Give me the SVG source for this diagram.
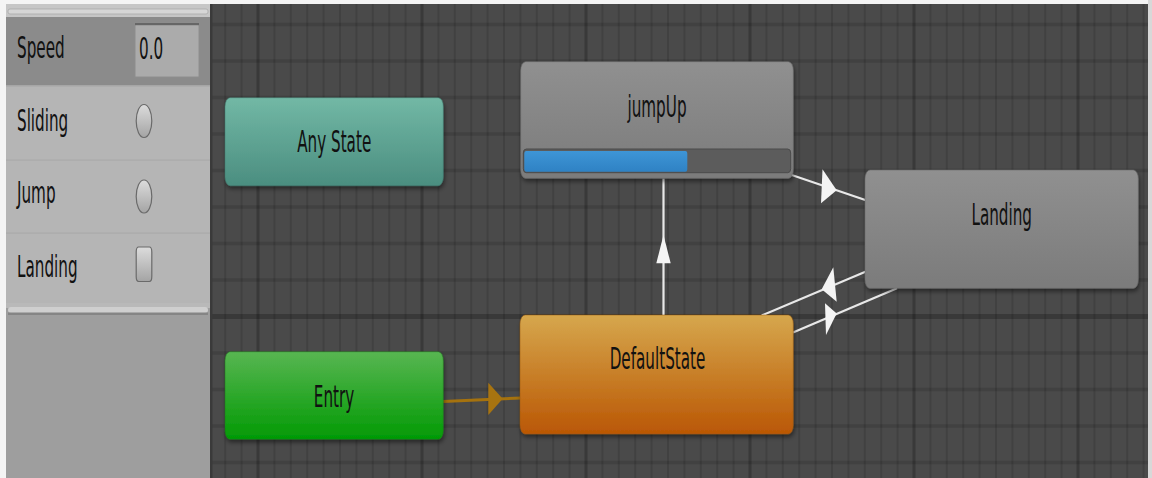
<svg xmlns="http://www.w3.org/2000/svg" width="1152" height="478" viewBox="0 0 1152 478">
<style>
.t{font-family:"DejaVu Sans",sans-serif;font-size:15.2px;fill:#111}
.tc{text-anchor:middle}
.minor{stroke:#000;stroke-opacity:0.11;fill:none}
.major{stroke:#000;stroke-opacity:0.22;fill:none}
.wire{stroke:#e8e8e8;stroke-width:2.2;fill:none}
.head{fill:#f4f4f4}
.tog{stroke:#6a6a6a;stroke-width:1.2;fill:url(#gTog)}
.node{filter:url(#sh)}
</style>
<defs>
<linearGradient id="gAny" x1="0" y1="0" x2="0" y2="1"><stop offset="0" stop-color="#72b8a5"/><stop offset="1" stop-color="#4b8e80"/></linearGradient>
<linearGradient id="gEntry" x1="0" y1="0" x2="0" y2="1"><stop offset="0" stop-color="#58b652"/><stop offset="1" stop-color="#029a04"/></linearGradient>
<linearGradient id="gDef" x1="0" y1="0" x2="0" y2="1"><stop offset="0" stop-color="#d6a74d"/><stop offset="1" stop-color="#ba5704"/></linearGradient>
<linearGradient id="gGray" x1="0" y1="0" x2="0" y2="1"><stop offset="0" stop-color="#909090"/><stop offset="1" stop-color="#7b7b7b"/></linearGradient>
<linearGradient id="gBlue" x1="0" y1="0" x2="0" y2="1"><stop offset="0" stop-color="#3e95d6"/><stop offset="1" stop-color="#2f82c4"/></linearGradient>
<linearGradient id="gTog" x1="0" y1="0" x2="0" y2="1"><stop offset="0" stop-color="#dcdcdc"/><stop offset="1" stop-color="#a4a4a4"/></linearGradient>
<filter id="sh" x="-10%" y="-20%" width="120%" height="150%"><feDropShadow dx="1" dy="3" stdDeviation="2" flood-color="#000" flood-opacity="0.45"/></filter>
</defs>

<!-- canvas background and grid -->
<rect x="0" y="0" width="1152" height="478" fill="#4a4a4a"/>
<path class="minor" stroke-width="3.5" d="M212 24.5H1152M212 61H1152M212 97.5H1152M212 134H1152M212 170.5H1152M212 207H1152M212 243.5H1152M212 280H1152M212 353H1152M212 389.5H1152M212 426H1152M212 462.5H1152"/>
<path class="minor" stroke-width="2" d="M225.2 0V478M241.6 0V478M274.4 0V478M290.8 0V478M307.2 0V478M323.6 0V478M340 0V478M356.4 0V478M372.8 0V478M389.2 0V478M405.6 0V478M438.4 0V478M454.8 0V478M471.2 0V478M487.6 0V478M504 0V478M520.4 0V478M536.8 0V478M553.2 0V478M569.6 0V478M602.4 0V478M618.8 0V478M635.2 0V478M651.6 0V478M668 0V478M684.4 0V478M700.8 0V478M717.2 0V478M733.6 0V478M766.4 0V478M782.8 0V478M799.2 0V478M815.6 0V478M832 0V478M848.4 0V478M864.8 0V478M881.2 0V478M897.6 0V478M930.4 0V478M946.8 0V478M963.2 0V478M979.6 0V478M996 0V478M1012.4 0V478M1028.8 0V478M1045.2 0V478M1061.6 0V478M1094.4 0V478M1110.8 0V478M1127.2 0V478M1143.6 0V478"/>
<path class="major" stroke-width="5" d="M212 316.5H1152"/>
<path class="major" stroke-width="3" d="M258 0V478M422 0V478M586 0V478M750 0V478M914 0V478M1078 0V478"/>

<!-- outer light border -->
<rect x="0" y="0" width="1152" height="4" fill="#f4f4f4"/>
<rect x="0" y="0" width="6" height="478" fill="#f4f4f4"/>
<rect x="1148" y="0" width="4" height="478" fill="#d8d8d8"/>

<!-- parameters panel -->
<g id="panel">
<rect x="6" y="4" width="204.5" height="474" fill="#9e9e9e"/>
<rect x="210" y="4" width="2.5" height="474" fill="#3a3a3a"/>
<rect x="6" y="4" width="204" height="13" fill="#c6c6c6"/>
<rect x="8" y="9" width="200" height="5" rx="2" fill="#d6d6d6" stroke="#a9a9a9" stroke-width="0.8"/>
<rect x="6" y="17" width="204" height="69" fill="#8b8b8b"/>
<rect x="6" y="86" width="204" height="220" fill="#b5b5b5"/>
<rect x="6" y="85" width="204" height="1.5" fill="#a6a6a6"/>
<rect x="6" y="159.5" width="204" height="1.2" fill="#aaaaaa"/>
<rect x="6" y="232.5" width="204" height="1.2" fill="#aaaaaa"/>
<rect x="6" y="303" width="204" height="5" fill="#b9b9b9"/>
<rect x="8" y="307" width="200" height="6" rx="3" fill="#cfcfcf"/>
<rect x="8" y="312.5" width="200" height="2.5" fill="#858585"/>
</g>
<g id="param-speed">
<rect x="135" y="23" width="64" height="54" fill="#ababab" stroke="#8e8e8e" stroke-width="1"/>
<rect x="135" y="23" width="64" height="2.2" fill="#666"/>
<text class="t" transform="translate(17,57.5) scale(1,1.95)">Speed</text>
<text class="t" transform="translate(139,59) scale(1,1.95)">0.0</text>
</g>
<g id="param-sliding">
<text class="t" transform="translate(17,131) scale(1,1.95)">Sliding</text>
<ellipse class="tog" cx="144" cy="121" rx="7.8" ry="16.5"/>
</g>
<g id="param-jump">
<text class="t" transform="translate(17,203.3) scale(1,1.95)">Jump</text>
<ellipse class="tog" cx="144" cy="196.5" rx="7.8" ry="16.5"/>
</g>
<g id="param-landing">
<text class="t" transform="translate(17,277.3) scale(1,1.95)">Landing</text>
<rect class="tog" x="136.2" y="247" width="15.6" height="34.5" rx="2.5" ry="5"/>
</g>

<!-- connectors -->
<g id="connectors">
<line x1="443" y1="401.5" x2="521" y2="398" stroke="#a5720e" stroke-width="3"/>
<polygon points="488.3,382.7 502.7,398.7 488.3,415" fill="#a87410"/>
<line class="wire" x1="663.5" y1="315" x2="663.5" y2="178.5"/>
<polygon class="head" points="663.5,235 670.7,263.3 656.3,263.3"/>
<line class="wire" x1="791.7" y1="175" x2="866" y2="200.3"/>
<polygon class="head" points="822.5,169.3 836.7,190.3 821,203.3"/>
<line class="wire" x1="761.7" y1="315.5" x2="866" y2="271.5"/>
<polygon class="head" points="833.3,267.3 821.7,289.3 836.7,301.7"/>
<line class="wire" x1="793" y1="332.4" x2="897" y2="288.2"/>
<polygon class="head" points="825,303.3 836.7,313.6 826,335"/>
</g>

<!-- nodes -->
<g id="node-anystate">
<rect class="node" x="225" y="97.7" width="218.3" height="88" rx="5" ry="9" fill="url(#gAny)" stroke="#3f7a6e" stroke-opacity="0.5"/>
<text class="t tc" transform="translate(334.2,151.7) scale(1,2.03)">Any State</text>
</g>
<g id="node-entry">
<rect class="node" x="225" y="351.7" width="218.3" height="87.6" rx="5" ry="9" fill="url(#gEntry)" stroke="#1d7a1d" stroke-opacity="0.5"/>
<text class="t tc" transform="translate(334,406.7) scale(1,2.03)">Entry</text>
</g>
<g id="node-jumpup">
<rect class="node" x="520.7" y="61.7" width="272.6" height="116.6" rx="5" ry="9" fill="url(#gGray)" stroke="#6a6a6a" stroke-opacity="0.6"/>
<text class="t tc" transform="translate(657,116.5) scale(1,2.03)">jumpUp</text>
<rect x="523.3" y="149" width="267.4" height="23.7" rx="3" ry="4" fill="#5c5c5c" stroke="#4a4a4a" stroke-width="1"/>
<rect x="524.3" y="151" width="163" height="20.7" rx="2" ry="3" fill="url(#gBlue)"/>
</g>
<g id="node-landing">
<rect class="node" x="865" y="170" width="273.3" height="118.3" rx="5" ry="9" fill="url(#gGray)" stroke="#6a6a6a" stroke-opacity="0.6"/>
<text class="t tc" transform="translate(1001.7,225) scale(1,2.03)">Landing</text>
</g>
<g id="node-defaultstate">
<rect class="node" x="520" y="315" width="273.3" height="119" rx="5" ry="9" fill="url(#gDef)" stroke="#9a5a10" stroke-opacity="0.5"/>
<text class="t tc" transform="translate(657.5,369.3) scale(1,2.03)">DefaultState</text>
</g>
</svg>
